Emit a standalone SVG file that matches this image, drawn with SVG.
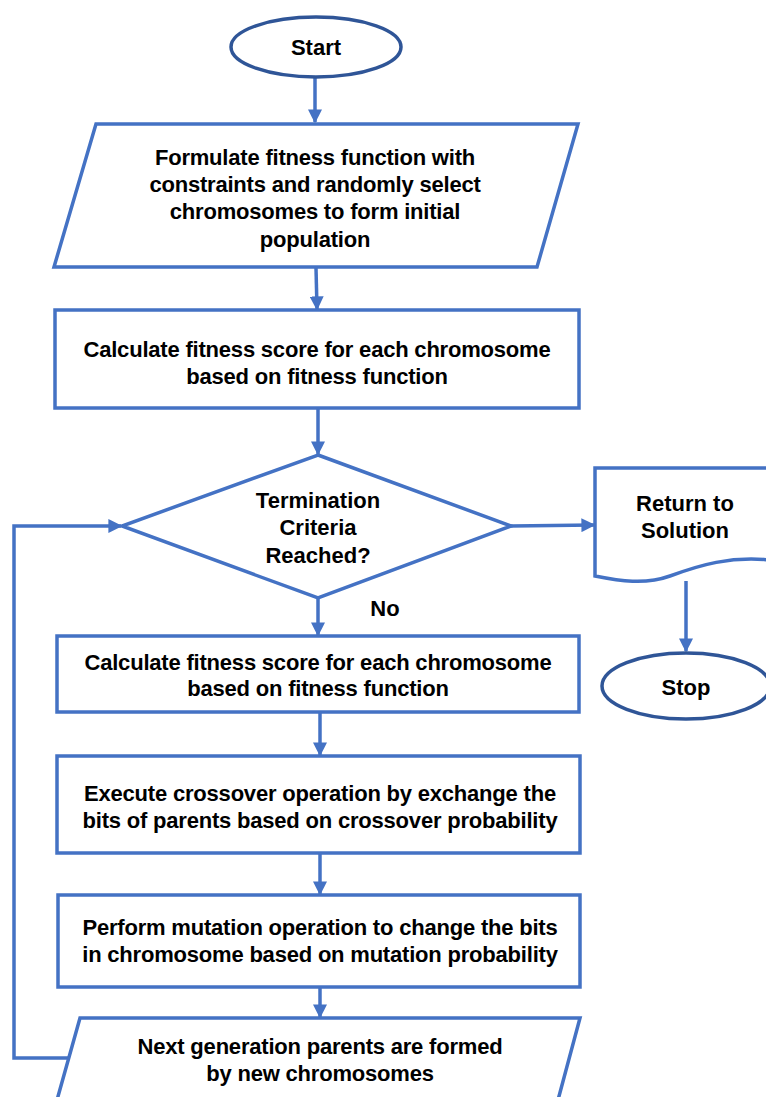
<svg xmlns="http://www.w3.org/2000/svg" width="766" height="1097" viewBox="0 0 766 1097">
  <defs>
    <marker id="arrow" viewBox="0 0 10 10" refX="9" refY="5" markerWidth="4" markerHeight="4" orient="auto" markerUnits="strokeWidth">
      <path d="M0,0 L10,5 L0,10 z" fill="#4472C4"/>
    </marker>
    <style>
      .box { fill: #FFFFFF; stroke: #4472C4; stroke-width: 3.5; }
      .term { fill: #FFFFFF; stroke: #2F5597; stroke-width: 3.5; }
      .link { fill: none; stroke: #4472C4; stroke-width: 3.5; marker-end: url(#arrow); }
      text { font-family: "Liberation Sans", Arial, sans-serif; font-weight: bold; font-size: 22px; fill: #000000; text-anchor: middle; letter-spacing: -0.2px; }
      .big { letter-spacing: 0; }
    </style>
  </defs>

  <!-- connectors -->
  <g id="connectors">
    <path class="link" d="M315,78 L315,122"/>
    <path class="link" d="M316,268 L317,309"/>
    <path class="link" d="M318,409 L318,454"/>
    <path class="link" d="M318,599 L318,635"/>
    <path class="link" d="M320,713 L320,755"/>
    <path class="link" d="M320,854 L320,894"/>
    <path class="link" d="M320,988 L320,1017"/>
    <path class="link" d="M511,526 L594,525"/>
    <path class="link" d="M686,581 L686,651"/>
    <path class="link" d="M68,1058 L14,1058 L14,526 L121,526"/>
  </g>

  <g id="start">
    <ellipse class="term" cx="316" cy="47" rx="85" ry="30"/>
    <text class="big" x="316" y="55">Start</text>
  </g>

  <g id="init-population">
    <polygon class="box" points="96,124 578,124 537,267 54,267"/>
    <text x="315" y="165">Formulate fitness function with</text>
    <text x="315" y="192">constraints and randomly select</text>
    <text x="315" y="219">chromosomes to form initial</text>
    <text x="315" y="247">population</text>
  </g>

  <g id="fitness-1">
    <rect class="box" x="55" y="310" width="524" height="98"/>
    <text x="317" y="357">Calculate fitness score for each chromosome</text>
    <text x="317" y="384">based on fitness function</text>
  </g>

  <g id="termination">
    <polygon class="box" points="318,455 511,526 318,598 122,526"/>
    <text class="big" x="318" y="508">Termination</text>
    <text class="big" x="318" y="535">Criteria</text>
    <text class="big" x="318" y="563">Reached?</text>
  </g>

  <text class="big" x="385" y="616">No</text>

  <g id="return-solution">
    <path class="box" d="M595,468 L770,468 L770,560 C730,556 700,565 670,576 C645,585 620,581 595,576 Z"/>
    <text class="big" x="685" y="511">Return to</text>
    <text class="big" x="685" y="538">Solution</text>
  </g>

  <g id="stop">
    <ellipse class="term" cx="686" cy="686" rx="84" ry="33"/>
    <text class="big" x="686" y="695">Stop</text>
  </g>

  <g id="fitness-2">
    <rect class="box" x="57" y="636" width="522" height="76"/>
    <text x="318" y="670">Calculate fitness score for each chromosome</text>
    <text x="318" y="696">based on fitness function</text>
  </g>

  <g id="crossover">
    <rect class="box" x="57" y="756" width="523" height="97"/>
    <text x="320" y="801">Execute crossover operation by exchange the</text>
    <text x="320" y="828">bits of parents based on crossover probability</text>
  </g>

  <g id="mutation">
    <rect class="box" x="58" y="895" width="522" height="92"/>
    <text x="320" y="935">Perform mutation operation to change the bits</text>
    <text x="320" y="962">in chromosome based on mutation probability</text>
  </g>

  <g id="next-generation">
    <polygon class="box" points="80,1018 580,1018 558,1100 57,1100"/>
    <text x="320" y="1054">Next generation parents are formed</text>
    <text x="320" y="1081">by new chromosomes</text>
  </g>
</svg>
